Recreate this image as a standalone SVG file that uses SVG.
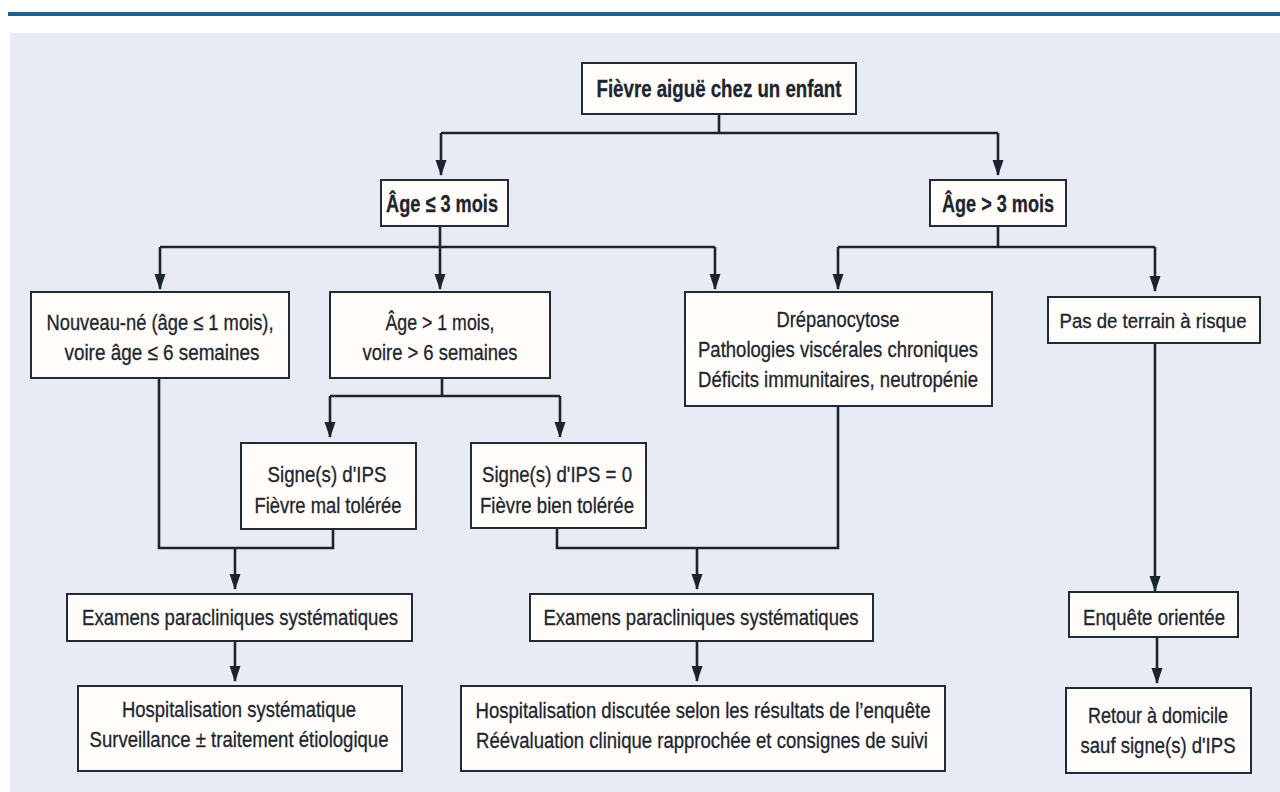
<svg xmlns="http://www.w3.org/2000/svg" width="1280" height="792" viewBox="0 0 1280 792">
<style>
.box{fill:#fffcfa;stroke:#1e2b38;stroke-width:2}
.t{font-family:"Liberation Sans",Arial,sans-serif;font-size:22.5px;fill:#1c2530;stroke:#1c2530;stroke-width:0.3;text-anchor:middle}
.b{font-weight:bold;font-size:24px}
.s{font-size:20.5px}
.c{fill:none;stroke:#1a2430;stroke-width:2.6}
.a{marker-end:url(#ah)}
</style>
<defs>
<marker id="ah" markerUnits="userSpaceOnUse" markerWidth="16" markerHeight="12" refX="15" refY="6" orient="auto">
<path d="M0,0.5 L16,6 L0,11.5 Z" fill="#1a2430"/>
</marker>
</defs>
<rect x="0" y="0" width="1280" height="792" fill="#ffffff"/>
<rect x="10" y="33" width="1270" height="759" fill="#e9ebf4"/>
<line x1="8" y1="14" x2="1280" y2="14" stroke="#235f8c" stroke-width="4"/>

<g id="connectors">
<path class="c" d="M719,115 V133 M441,133 H998 M440,226 V247 M160,247 H715 M998,226 V247 M838,247 H1155 M442,378 V396 M330,396 H560 M159,378 V548 H333 V529 M557,528 V548 H838 V406"/>
<path class="c a" d="M441,133 V175"/>
<path class="c a" d="M998,133 V175"/>
<path class="c a" d="M160,247 V289"/>
<path class="c a" d="M440,247 V289"/>
<path class="c a" d="M715,247 V289"/>
<path class="c a" d="M838,247 V289"/>
<path class="c a" d="M1155,247 V291"/>
<path class="c a" d="M330,396 V437"/>
<path class="c a" d="M560,396 V437"/>
<path class="c a" d="M235,548 V589"/>
<path class="c a" d="M697,548 V589"/>
<path class="c a" d="M1155,343 V591"/>
<path class="c a" d="M235,641 V681"/>
<path class="c a" d="M697,641 V681"/>
<path class="c a" d="M1157,637 V683"/>
</g>

<g id="n-fievre">
<rect class="box" x="582" y="63" width="274" height="51"/>
<text class="t b" x="719" y="97" textLength="245" lengthAdjust="spacingAndGlyphs">Fièvre aiguë chez un enfant</text>
</g>
<g id="n-age-le3">
<rect class="box" x="381" y="180" width="127" height="46"/>
<text class="t b" x="442" y="212" textLength="112" lengthAdjust="spacingAndGlyphs">Âge ≤ 3 mois</text>
</g>
<g id="n-age-gt3">
<rect class="box" x="930" y="180" width="136" height="46"/>
<text class="t b" x="998" y="212" textLength="112" lengthAdjust="spacingAndGlyphs">Âge &gt; 3 mois</text>
</g>
<g id="n-nouveau-ne">
<rect class="box" x="31" y="292" width="258" height="86"/>
<text class="t" x="160" y="330" textLength="227" lengthAdjust="spacingAndGlyphs">Nouveau-né (âge ≤ 1 mois),</text>
<text class="t" x="162" y="360" textLength="195" lengthAdjust="spacingAndGlyphs">voire âge ≤ 6 semaines</text>
</g>
<g id="n-age-gt1">
<rect class="box" x="330" y="292" width="220" height="86"/>
<text class="t" x="440" y="330" textLength="109" lengthAdjust="spacingAndGlyphs">Âge &gt; 1 mois,</text>
<text class="t" x="440" y="360" textLength="155" lengthAdjust="spacingAndGlyphs">voire &gt; 6 semaines</text>
</g>
<g id="n-drepano">
<rect class="box" x="685" y="292" width="307" height="114"/>
<text class="t" x="838" y="327" textLength="123" lengthAdjust="spacingAndGlyphs">Drépanocytose</text>
<text class="t" x="838" y="357" textLength="280" lengthAdjust="spacingAndGlyphs">Pathologies viscérales chroniques</text>
<text class="t" x="838" y="387" textLength="280" lengthAdjust="spacingAndGlyphs">Déficits immunitaires, neutropénie</text>
</g>
<g id="n-pas-risque">
<rect class="box" x="1048" y="297" width="212" height="46"/>
<text class="t s" x="1153" y="328" textLength="187" lengthAdjust="spacingAndGlyphs">Pas de terrain à risque</text>
</g>
<g id="n-ips">
<rect class="box" x="241" y="443" width="175" height="86"/>
<text class="t" x="327" y="482" textLength="119" lengthAdjust="spacingAndGlyphs">Signe(s) d'IPS</text>
<text class="t" x="328" y="513" textLength="147" lengthAdjust="spacingAndGlyphs">Fièvre mal tolérée</text>
</g>
<g id="n-ips0">
<rect class="box" x="471" y="443" width="175" height="85"/>
<text class="t" x="557" y="482" textLength="150" lengthAdjust="spacingAndGlyphs">Signe(s) d'IPS = 0</text>
<text class="t" x="557" y="513" textLength="154" lengthAdjust="spacingAndGlyphs">Fièvre bien tolérée</text>
</g>
<g id="n-examens1">
<rect class="box" x="67" y="594" width="345" height="47"/>
<text class="t" x="240" y="625" textLength="316" lengthAdjust="spacingAndGlyphs">Examens paracliniques systématiques</text>
</g>
<g id="n-examens2">
<rect class="box" x="530" y="594" width="343" height="47"/>
<text class="t" x="701" y="625" textLength="315" lengthAdjust="spacingAndGlyphs">Examens paracliniques systématiques</text>
</g>
<g id="n-enquete">
<rect class="box" x="1069" y="592" width="169" height="45"/>
<text class="t" x="1154" y="625" textLength="142" lengthAdjust="spacingAndGlyphs">Enquête orientée</text>
</g>
<g id="n-hosp1">
<rect class="box" x="78" y="686" width="324" height="85"/>
<text class="t" x="239" y="717" textLength="234" lengthAdjust="spacingAndGlyphs">Hospitalisation systématique</text>
<text class="t" x="239" y="747" textLength="299" lengthAdjust="spacingAndGlyphs">Surveillance ± traitement étiologique</text>
</g>
<g id="n-hosp2">
<rect class="box" x="461" y="686" width="484" height="85"/>
<text class="t" x="703" y="718" textLength="455" lengthAdjust="spacingAndGlyphs">Hospitalisation discutée selon les résultats de l’enquête</text>
<text class="t" x="702" y="748" textLength="452" lengthAdjust="spacingAndGlyphs">Réévaluation clinique rapprochée et consignes de suivi</text>
</g>
<g id="n-retour">
<rect class="box" x="1066" y="688" width="185" height="85"/>
<text class="t" x="1158" y="723" textLength="140" lengthAdjust="spacingAndGlyphs">Retour à domicile</text>
<text class="t" x="1158" y="753" textLength="155" lengthAdjust="spacingAndGlyphs">sauf signe(s) d'IPS</text>
</g>
</svg>
